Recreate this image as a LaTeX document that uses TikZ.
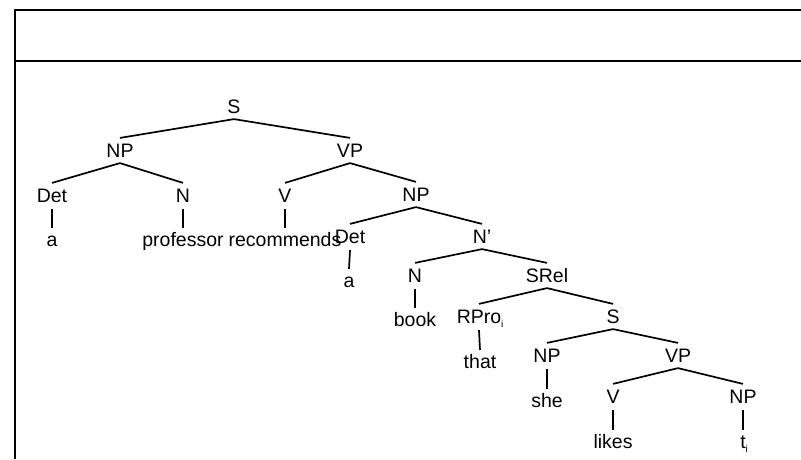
\documentclass[tikz,border=0pt]{standalone}
\usepackage{fontspec}
\setmainfont{Liberation Sans}
\newcommand{\subi}[1]{\rlap{\raisebox{-4pt}{\fontsize{10}{10}\selectfont #1}}}
\tikzset{
  lbl/.style={inner sep=0pt, text height=13.8pt, text depth=0pt, font=\fontsize{19.5}{19.5}\selectfont},
  br/.style={line width=1.7pt},
  frameline/.style={line width=1.8pt}
}
\newcommand{\branch}[2]{\draw[br] ([yshift=-5pt]#1.south) -- ([yshift=6pt]#2.north);}
\newcommand{\unary}[2]{\draw[br] ([yshift=-6pt]#1.south) -- ([yshift=5pt]#2.north);}
\begin{document}
\begin{tikzpicture}[x=1pt,y=-1pt]
\useasboundingbox (0,0) rectangle (801,459);
% frame
\draw[frameline] (15,459) -- (15,10) -- (801,10);
\draw[frameline] (15,61) -- (801,61);
% nodes
\node[lbl] (S0) at (234,107) {S};
\node[lbl] (NP1) at (120,151) {NP};
\node[lbl] (VP1) at (350,151) {VP};
\node[lbl] (Det1) at (52,196) {Det};
\node[lbl] (N1) at (183,196) {N};
\node[lbl] (V1) at (285,196) {V};
\node[lbl] (a1) at (52,240) {a};
\node[lbl] (prof) at (183,240) {professor};
\node[lbl] (recom) at (285,240) {recommends};
\node[lbl] (NP2) at (416,195) {NP};
\node[lbl] (Det2) at (350,237) {Det};
\node[lbl] (Nb2) at (482,237) {N{\char"27}};
\node[lbl] (a2) at (349,281) {a};
\node[lbl] (N3) at (415,276) {N};
\node[lbl] (SRel) at (547,276) {SRel};
\node[lbl] (book) at (415,320) {book};
\node[lbl] (RPro) at (479,317) {RPro\subi{i}};
\node[lbl] (that) at (480,362) {that};
\node[lbl] (S2) at (613,317) {S};
\node[lbl] (NP4) at (547,356) {NP};
\node[lbl] (VP4) at (678,356) {VP};
\node[lbl] (she) at (547,401) {she};
\node[lbl] (V4) at (613,397) {V};
\node[lbl] (NP5) at (743,397) {NP};
\node[lbl] (likes) at (613,442) {likes};
\node[lbl] (ti) at (743,442) {t\subi{i}};
% edges
\branch{S0}{NP1}
\branch{S0}{VP1}
\branch{NP1}{Det1}
\branch{NP1}{N1}
\branch{VP1}{V1}
\branch{VP1}{NP2}
\unary{Det1}{a1}
\unary{N1}{prof}
\unary{V1}{recom}
\branch{NP2}{Det2}
\branch{NP2}{Nb2}
\unary{Det2}{a2}
\branch{Nb2}{N3}
\branch{Nb2}{SRel}
\unary{N3}{book}
\branch{SRel}{RPro}
\branch{SRel}{S2}
\unary{RPro}{that}
\branch{S2}{NP4}
\branch{S2}{VP4}
\unary{NP4}{she}
\branch{VP4}{V4}
\branch{VP4}{NP5}
\unary{V4}{likes}
\unary{NP5}{ti}
\end{tikzpicture}
\end{document}
